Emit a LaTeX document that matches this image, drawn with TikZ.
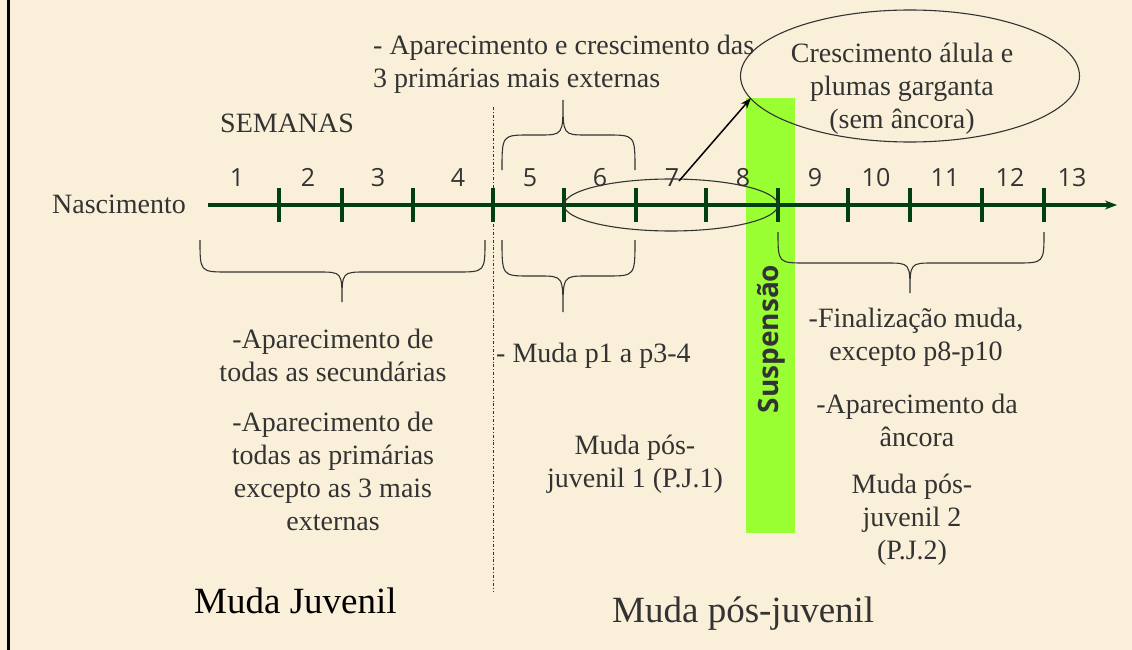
\documentclass[tikz,border=0pt]{standalone}
\usepackage{fontspec}
\setmainfont{Liberation Serif}
\newfontfamily\numfont{Open Sans}
\usetikzlibrary{shapes.geometric,arrows.meta}
\definecolor{bg}{HTML}{FAF0DA}
\definecolor{txt}{HTML}{333333}
\definecolor{axis}{HTML}{004010}
\definecolor{lime}{HTML}{99FF33}
\tikzset{
  lbl/.style={text=txt,font=\fontsize{28}{33}\selectfont,align=center,inner sep=0pt},
  num/.style={text=txt,font=\numfont\fontsize{25}{30}\selectfont,inner sep=0pt,anchor=base},
  big/.style={font=\fontsize{37}{40}\selectfont,inner sep=0pt},
  tick/.style={axis,line width=3.6pt},
  axisline/.style={axis,line width=3.4pt},
  bracestyle/.style={txt,line width=1.1pt},
  ell/.style={draw=txt,line width=1.1pt,ellipse,inner sep=0pt},
}
\newcommand{\mybrace}[6]{% x1, x2, xtip, yend, ymid, ytip
  \draw[bracestyle] (#1,#4) .. controls (#1,#5) .. ({#1+28},#5) -- ({#3-24},#5)
     .. controls (#3,#5) .. (#3,#6)
     .. controls (#3,#5) .. ({#3+24},#5) -- ({#2-28},#5) .. controls (#2,#5) .. (#2,#4);
}
\begin{document}
\begin{tikzpicture}[x=1pt,y=-1pt]
\useasboundingbox (0,0) rectangle (1132,650);
\fill[bg] (0,0) rectangle (1132,650);
\draw[black,line width=2.5pt] (8.5,0) -- (8.5,650);

% suspension bar
\fill[lime] (746,98) rectangle (795,533);
\node[text=txt,font=\numfont\bfseries\fontsize{28}{30}\selectfont,rotate=90,inner sep=0pt] (susp) at (771,339) {Suspensão};

% divider
\draw[txt,line width=0.8pt,dash dot] (493,107) -- (493,592);

% timeline
\coordinate (t0) at (208,205);
\coordinate (tend) at (1117,205);
\draw[axisline,-{Stealth[length=12pt,width=9pt]}] (t0) -- (tend);
\foreach \x in {279,342,413,493,564,636,706,778,848,910,982,1044}
  \draw[tick] (\x,188) -- (\x,222);

% week numbers
\foreach \n/\x in {1/237,2/308,3/378,4/458,5/530,6/600,7/672,8/743,9/815,10/876,11/945,12/1010,13/1072}
  \node[num] (w\n) at (\x,186) {\n};

\node[lbl,anchor=west] (nasc) at (52,204) {Nascimento};
\node[lbl,anchor=west] (sem) at (220,123) {SEMANAS};

% ellipses
\node[ell,minimum width=214pt,minimum height=52pt] (smallell) at (671,205) {};
\node[ell,minimum width=339pt,minimum height=132pt] (bigell) at (910,76) {};
\node[lbl] (cresc) at (902,89) {Crescimento álula e\\plumas garganta\\(sem âncora)};

% arrow
\coordinate (arrS) at (679,181);
\coordinate (arrE) at (751,98);
\draw[black,line width=1.5pt,-{Stealth[length=11pt,width=8pt]}] (arrS) -- (arrE);

% braces
\mybrace{502}{635}{563}{170}{135}{100}
\mybrace{200}{485}{342}{240}{272}{302}
\mybrace{502}{635}{563}{240}{276}{312}
\mybrace{778}{1044}{910}{232}{263}{293}

% texts
\node[lbl,align=left,anchor=north west] (aparext) at (373,35) {- Aparecimento e crescimento das\\3 primárias mais externas};
\node[lbl] (sec) at (333,355) {-Aparecimento de\\todas as secundárias};
\node[lbl] (prim) at (333,471) {-Aparecimento de\\todas as primárias\\excepto as 3 mais\\externas};
\node[lbl,anchor=west] (p13) at (496,356) {- Muda p1 a p3-4};
\node[lbl] (pj1) at (635,464) {Muda pós-\\juvenil 1 (P.J.1)};
\node[lbl] (fin) at (916,337) {-Finalização muda,\\excepto p8-p10};
\node[lbl] (anc) at (917,420) {-Aparecimento da\\âncora};
\node[lbl] (pj2) at (912,520) {Muda pós-\\juvenil 2\\(P.J.2)};
\node[big,text=black,anchor=west] (mj) at (194,601) {Muda Juvenil};
\node[big,text=txt,anchor=west] (mpj) at (612,614) {Muda pós-juvenil};
\end{tikzpicture}
\end{document}
